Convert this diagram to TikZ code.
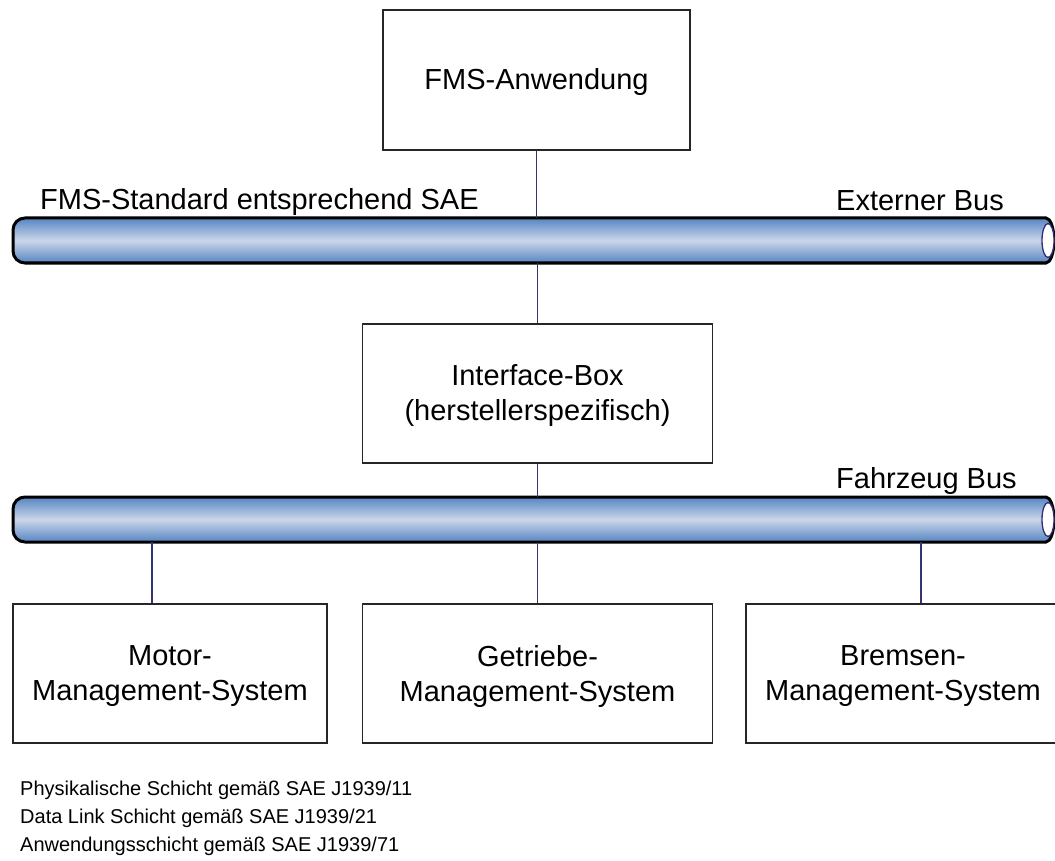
\documentclass[tikz,border=0pt]{standalone}
\usepackage{fontspec}
\setmainfont{Liberation Sans}
\definecolor{busdark}{RGB}{86,133,195}
\definecolor{buslight}{RGB}{202,214,233}
\definecolor{wirecol}{RGB}{52,52,112}
\definecolor{endcol}{RGB}{48,48,120}
\tikzset{
  box/.style={draw=black!85, line width=1.5pt, fill=white, align=center,
    inner sep=0pt, font=\fontsize{29}{35}\selectfont},
  wire/.style={draw=wirecol, line width=1.6pt},
  lbl/.style={inner sep=0pt, font=\fontsize{29}{35}\selectfont},
  note/.style={inner sep=0pt, align=left, anchor=north west,
    font=\fontsize{20}{28}\selectfont},
  busbody/.style={draw=black, line width=3pt, top color=busdark,
    bottom color=busdark, middle color=buslight},
  busend/.style={draw=endcol, line width=1.3pt, fill=white},
  busarea/.style={inner sep=0pt, minimum width=1041pt, minimum height=45pt}
}
% one line of box text, set slightly lower than the geometric centre
\newcommand{\dn}[1]{\raisebox{-2.5pt}[\height][\depth]{#1}}
% horizontal bus pipe: #1 = top y, #2 = bottom y
\newcommand{\buspipe}[2]{%
  \path[busbody] (1046,#1) -- (25,#1)
    arc[start angle=90, end angle=180, radius=12pt] -- (13,#2-12)
    arc[start angle=180, end angle=270, radius=12pt] -- (1046,#2)
    arc[start angle=-90, end angle=90, x radius=8pt, y radius=22.5pt] -- cycle;
  \path[busend] (1048,{(#1+#2)/2}) ellipse [x radius=6pt, y radius=17pt];
}
\begin{document}
\begin{tikzpicture}[x=1pt,y=-1pt]
\useasboundingbox (0,0) rectangle (1055,861);
\clip (0,0) rectangle (1055,861);

% buses
\buspipe{218}{263}
\node[busarea] (extbus) at (533.5,240.5) {};
\buspipe{497}{542}
\node[busarea] (vehbus) at (533.5,519.5) {};

% boxes
\node[box, minimum width=307pt, minimum height=140pt] (app) at (536.5,80) {\dn{FMS-Anwendung}};
\node[box, minimum width=350pt, minimum height=139pt] (ibox) at (537.5,393.5) {\dn{Interface-Box}\\\dn{(herstellerspezifisch)}};
\node[box, minimum width=314pt, minimum height=139pt] (motor) at (170,673.5) {\dn{Motor-}\\\dn{Management-System}};
\node[box, minimum width=350pt, minimum height=139pt] (getr) at (537.5,673.5) {\dn{Getriebe-}\\\dn{Management-System}};
\node[box, minimum width=314pt, minimum height=139pt] (brems) at (903,673.5) {\dn{Bremsen-}\\\dn{Management-System}};

% connectors
\draw[wire] (app.south) -- (app.south |- extbus.north);
\draw[wire] (ibox.north) -- (ibox.north |- extbus.south);
\draw[wire] (ibox.south) -- (ibox.south |- vehbus.north);
\draw[wire] ([xshift=-18pt]motor.north) -- ([xshift=-18pt]motor.north |- vehbus.south);
\draw[wire] (getr.north) -- (getr.north |- vehbus.south);
\draw[wire] ([xshift=18pt]brems.north) -- ([xshift=18pt]brems.north |- vehbus.south);

% labels
\node[lbl, anchor=west] (stdlbl) at (40,202) {FMS-Standard entsprechend SAE};
\node[lbl, anchor=west] (extlbl) at (836,201) {Externer Bus};
\node[lbl, anchor=west] (vehlbl) at (836,481) {Fahrzeug Bus};

\node[note] (layers) at (20,781) {Physikalische Schicht gemäß SAE J1939/11\\Data Link Schicht gemäß SAE J1939/21\\Anwendungsschicht gemäß SAE J1939/71};
\end{tikzpicture}
\end{document}
